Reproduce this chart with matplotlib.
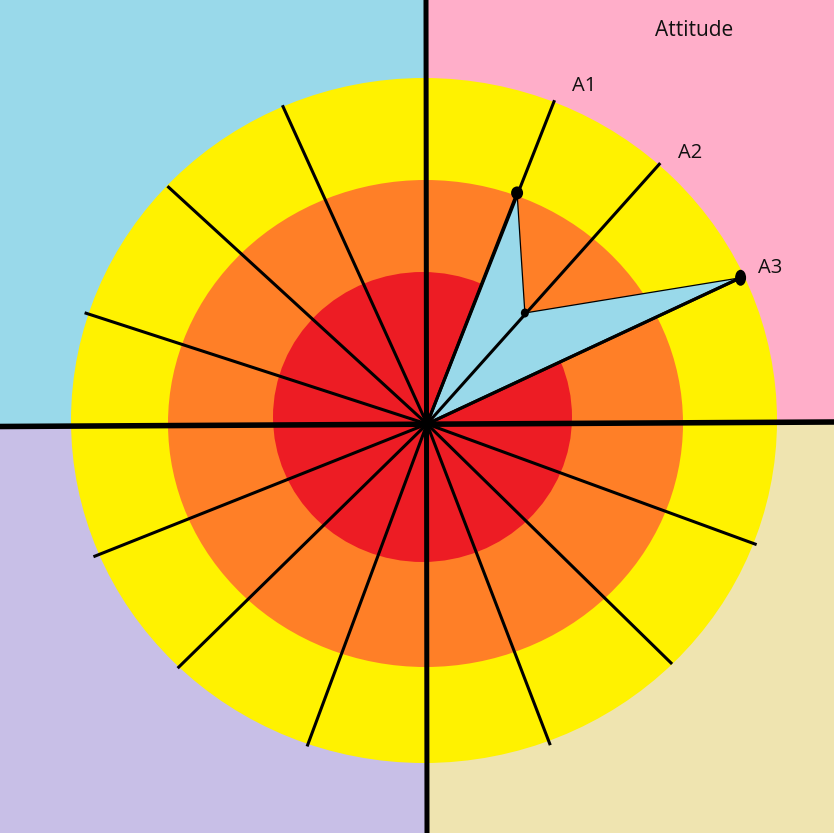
import numpy as np
import matplotlib
matplotlib.use("Agg")
import matplotlib.pyplot as plt
from matplotlib.patches import Rectangle, Ellipse, Polygon

# ---- data ----
categories = ["A1", "A2", "A3"]
angles_deg = [68.7, 48.6, 25.0]        # direction of each item
radii = [248, 148, 346]                 # distance from centre (chart units)
title = "Attitude"
ray_angles = [25.0, 48.2, 68.5, 114.4, 137.5, 162.0,
              201.7, 224.4, 249.6, 291.0, 315.6, 339.9]
ray_lengths = [346, 350, 348, 350, 352, 360, 359, 349, 344, 344, 343, 351]
ring_colors = ["#FFF200", "#FF7F27", "#ED1C24"]
quad_colors = ["#99D9EA", "#FFAEC9", "#C8BFE7", "#EFE4B0"]

W, H = 834, 833
fig = plt.figure(figsize=(W / 100, H / 100), dpi=100)
ax = fig.add_axes([0, 0, 1, 1])
ax.set_xlim(0, W)
ax.set_ylim(H, 0)
ax.axis("off")

cx, cy = 427, 424

# quadrants
ax.add_patch(Rectangle((0, 0), cx, cy, color=quad_colors[0], lw=0))
ax.add_patch(Rectangle((cx, 0), W - cx, cy, color=quad_colors[1], lw=0))
ax.add_patch(Rectangle((0, cy), cx, H - cy, color=quad_colors[2], lw=0))
ax.add_patch(Rectangle((cx, cy), W - cx, H - cy, color=quad_colors[3], lw=0))

# rings (slightly elliptical, as drawn)
ring_geom = [((424, 420.5), 706, 685), ((425.5, 423.5), 515, 487), ((422.5, 417), 299, 290)]
for (c, w, h), col in zip(ring_geom, ring_colors):
    ax.add_patch(Ellipse(c, w, h, color=col, lw=0))

# spokes (rays from centre)
for a, L in zip(ray_angles, ray_lengths):
    t = np.deg2rad(a)
    ax.plot([cx, cx + L * np.cos(t)], [cy, cy - L * np.sin(t)],
            color="black", lw=2.2, solid_capstyle="butt")

# axes lines
ax.plot([0, W], [426.5, 422], color="black", lw=4)
ax.plot([426, 427], [0, H], color="black", lw=3.6)

# data polygon
th = np.deg2rad(angles_deg)
xs = cx + np.array(radii) * np.cos(th)
ys = cy - np.array(radii) * np.sin(th)
pts = [(cx, cy)] + list(zip(xs, ys))
ax.add_patch(Polygon(pts, closed=True, facecolor="#99D9EA", edgecolor="black", lw=0.9))
ax.plot([cx, xs[0]], [cy, ys[0]], color="black", lw=2.2)
ax.plot([cx, xs[2]], [cy, ys[2]], color="black", lw=2.2)

dot_sizes = [(12, 13), (8, 9), (11, 16)]
for x, y, (w, h) in zip(xs, ys, dot_sizes):
    ax.add_patch(Ellipse((x, y), w, h, color="black", lw=0))

# labels
font = "Open Sans"
label_pos = [(584, 86), (690, 153), (770, 268)]
for name, (lx, ly) in zip(categories, label_pos):
    ax.text(lx, ly, name, fontsize=14.5, family=font, ha="center", va="center", color="#111111")
ax.text(694, 30, title, fontsize=15, family=font, ha="center", va="center", color="#111111")

fig.savefig("out.png", dpi=100)
